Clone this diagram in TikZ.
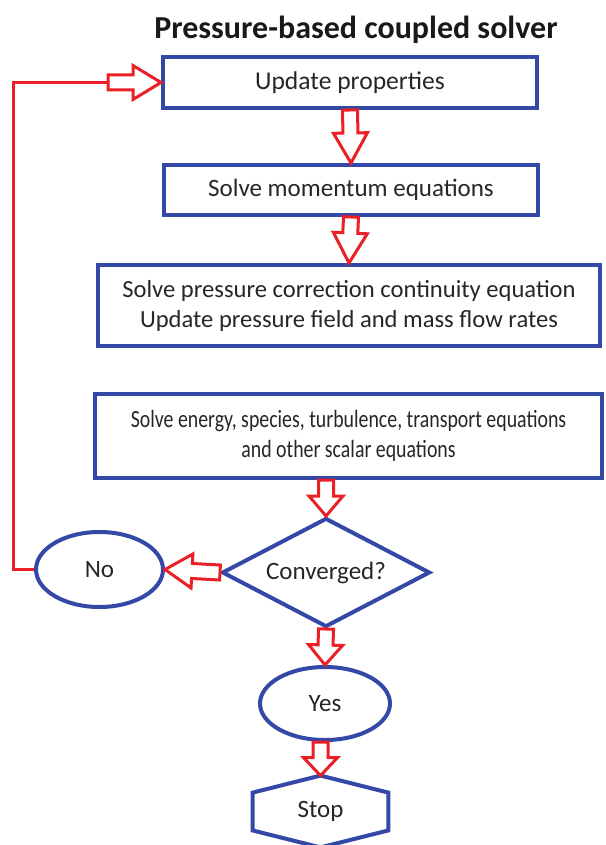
\documentclass[tikz,border=0pt]{standalone}
\usepackage{fontspec}
\setmainfont{Carlito}
\newfontfamily\narrowfont{Carlito}[FakeStretch=0.8]
\usepackage{xcolor}
\usetikzlibrary{calc,shapes.geometric}
\definecolor{boxblue}{RGB}{52,72,168}
\definecolor{flowred}{RGB}{234,32,38}

\begin{document}
\begin{tikzpicture}[
  x=0.5pt, y=-0.5pt,
  font=\fontsize{12.5}{15}\selectfont,
  txt/.style={text=black!85, align=center, inner sep=2pt},
  box/.style={txt, draw=boxblue, line width=2pt, minimum width=#1, minimum height=25.5pt},
  box/.default=187pt,
  term/.style={txt, draw=boxblue, line width=2pt, ellipse, inner sep=0pt},
  redline/.style={draw=flowred, line width=1.5pt},
  blk/.style={draw=flowred, line width=1.5pt, fill=white, line join=miter,
    to path={($(\tikztostart)!3.75pt!90:(\tikztotarget)$)
      -- ($($(\tikztotarget)!#1!(\tikztostart)$)!3.75pt!90:(\tikztotarget)$)
      -- ($($(\tikztotarget)!#1!(\tikztostart)$)!8.5pt!90:(\tikztotarget)$)
      -- (\tikztotarget)
      -- ($($(\tikztotarget)!#1!(\tikztostart)$)!8.5pt!-90:(\tikztotarget)$)
      -- ($($(\tikztotarget)!#1!(\tikztostart)$)!3.75pt!-90:(\tikztotarget)$)
      -- ($(\tikztostart)!3.75pt!-90:(\tikztotarget)$) -- cycle}},
  blk/.default=14pt,
]
\useasboundingbox (0,0) rectangle (605,845);

\node[font=\fontsize{16}{19}\selectfont\bfseries, text=black!90, anchor=base] (title) at (356,39) {Pressure-based coupled solver};

\node[box, font=\fontsize{12.8}{15}\selectfont] (upd) at (350,82.5) {Update properties};
\node[box, minimum height=25pt] (mom) at (351,190) {Solve momentum equations};
\node[box=251pt, minimum height=40.5pt, font=\fontsize{12.3}{15}\selectfont] (prs) at (349,305.5) {Solve pressure correction continuity equation\\ Update pressure field and mass flow rates};
\node[box=253.5pt, minimum height=42pt, font=\narrowfont\fontsize{12.4}{15}\selectfont] (scl) at (348.5,436) {Solve energy, species, turbulence, transport equations\\ and other scalar equations};

\node[txt, diamond, aspect=1.9, draw=boxblue, line width=2pt, minimum width=104pt, minimum height=54.5pt, inner sep=0pt] (conv) at (326,572.5) {Converged?};
\node[term, minimum width=63.5pt, minimum height=37.5pt] (no) at (99.5,569.5) {No};
\node[term, minimum width=65pt, minimum height=36.5pt] (yes) at (325,703.5) {Yes};
\node[txt, minimum width=67.5pt, minimum height=18.5pt] (stop) at (320.5,811.5) {Stop};
\draw[draw=boxblue, line width=2pt, line join=miter] (stop.north west) -- ([yshift=8.5pt]stop.north) -- (stop.north east)
  -- (stop.south east) -- ([yshift=-8.5pt]stop.south) -- (stop.south west) -- cycle;

\coordinate (corner) at (13,82.5);
\coordinate (ret) at (108,82.5);

\draw[blk=15pt] (upd.south) to (mom.north);
\draw[blk=15pt] (mom.south) to (prs.north);
\draw[blk=10pt] (scl.south -| conv.north) to (conv.north);
\draw[blk=13.5pt] (conv.west) to (no.east);
\draw[blk=10pt] (conv.south) to (yes.north);
\draw[blk=9pt] (yes.south -| stop.north) to ([yshift=8.5pt]stop.north);
\draw[redline] (no.west) -| (corner) -- (ret);
\draw[blk=14pt] (ret) to (upd.west);
\end{tikzpicture}
\end{document}
